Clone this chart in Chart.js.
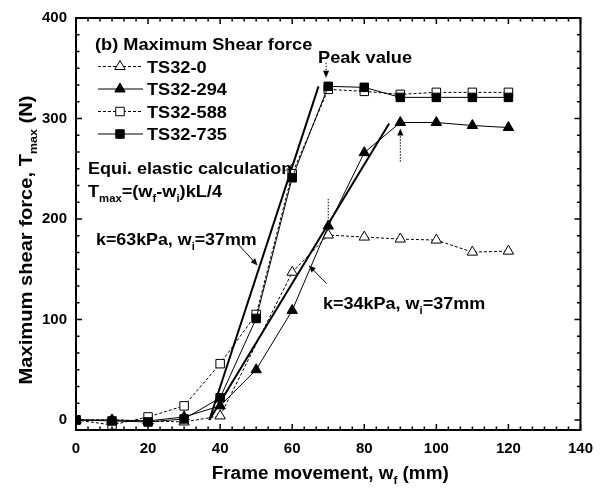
<!DOCTYPE html>
<html>
<head>
<meta charset="utf-8">
<script src="https://cdn.jsdelivr.net/npm/chart.js@4.4.1/dist/chart.umd.min.js"></script>
<style>
  html, body { margin: 0; padding: 0; background: #fff; }
  #wrap { width: 603px; height: 495px; }
</style>
</head>
<body>
<div id="wrap"><canvas id="c" width="603" height="495"></canvas></div>
<script>
// Frame movement w_f (mm) at each measurement step
const frameMovement = [0, 10, 20, 30, 40, 50, 60, 70, 80, 90, 100, 110, 120];
// Maximum shear force T_max (N) per specimen; null = not measured
const ts32_0   = [0, 0, -1, -2, 4, null, 147, 184, 182, 180, 179, 167, 168];
const ts32_294 = [0, 0, -1, 3, 14, 50, 109, 193, 266, 296, 296, 293, 291];
const ts32_588 = [0, -5, 3, 14, 56, 105, 245, 329, 327, 324, 326, 326, 326];
const ts32_735 = [0, -1, -2, 1, 22, 101, 241, 332, 331, 321, 321, 321, 321];
// Equivalent elastic calculation, T = (wf - wi) k L / 4 with wi = 37 mm
const calc63Wf = [37, 67.3];
const calc63T  = [0, 332];
const calc34Wf = [37, 86.9];
const calc34T  = [0, 295];
// Axis tick labels
const xTickValues = [0, 20, 40, 60, 80, 100, 120, 140];
const yTickValues = [0, 100, 200, 300, 400];

const FAMILY = "'Liberation Sans', Arial, Helvetica, sans-serif";

function pts(xs, ys) {
  const out = [];
  xs.forEach((x, i) => { if (ys[i] !== null) out.push({ x: x, y: ys[i] }); });
  return out;
}

const seriesStyle = [
  { label: 'TS32-0',   data: ts32_0,   style: 'triangle', fill: '#fff', dash: [3, 2] },
  { label: 'TS32-294', data: ts32_294, style: 'triangle', fill: '#000', dash: [] },
  { label: 'TS32-588', data: ts32_588, style: 'rect',     fill: '#fff', dash: [3, 2] },
  { label: 'TS32-735', data: ts32_735, style: 'rect',     fill: '#000', dash: [] }
];

const datasets = [];
// filled squares on top, then open squares, triangles, calculation lines
[3, 2, 1, 0].forEach(i => {
  const s = seriesStyle[i];
  datasets.push({
    label: s.label,
    data: pts(frameMovement, s.data),
    borderColor: '#000',
    borderWidth: 1,
    borderDash: s.dash,
    pointStyle: s.style,
    pointRadius: 6,
    pointBorderWidth: 1,
    pointBackgroundColor: s.fill,
    pointBorderColor: '#000',
    tension: 0,
    fill: false
  });
});
[[calc63Wf, calc63T], [calc34Wf, calc34T]].forEach(([xs, ys], i) => {
  datasets.push({
    label: i === 0 ? 'k=63kPa' : 'k=34kPa',
    data: pts(xs, ys),
    borderColor: '#000',
    borderWidth: 2,
    pointRadius: 0,
    tension: 0,
    fill: false
  });
});

// bold text with optional subscript segments, drawn from the left baseline
function richWidth(ctx, segs, size) {
  let w = 0;
  segs.forEach(([t, sub]) => {
    ctx.font = 'bold ' + (sub ? size * 0.62 : size) + 'px ' + FAMILY;
    w += ctx.measureText(t).width;
  });
  return w;
}
function drawRich(ctx, segs, x, y, size, sx) {
  ctx.save();
  ctx.translate(x, y);
  ctx.scale(sx, 1);
  ctx.textBaseline = 'alphabetic';
  ctx.textAlign = 'left';
  ctx.fillStyle = '#000';
  let cx = 0;
  segs.forEach(([t, sub]) => {
    const fs = sub ? size * 0.62 : size;
    ctx.font = 'bold ' + fs + 'px ' + FAMILY;
    ctx.fillText(t, cx, sub ? size * 0.3 : 0);
    cx += ctx.measureText(t).width;
  });
  ctx.restore();
}

function arrow(ctx, x0, y0, x1, y1, dashed, head) {
  ctx.save();
  ctx.strokeStyle = '#000';
  ctx.fillStyle = '#000';
  ctx.lineWidth = 1;
  ctx.setLineDash(dashed ? [1.5, 1.5] : []);
  const ang = Math.atan2(y1 - y0, x1 - x0);
  const hl = head ? 7 : 0;
  ctx.beginPath();
  ctx.moveTo(x0, y0);
  ctx.lineTo(x1 - Math.cos(ang) * hl * 0.8, y1 - Math.sin(ang) * hl * 0.8);
  ctx.stroke();
  if (head) {
    ctx.setLineDash([]);
    ctx.beginPath();
    ctx.moveTo(x1, y1);
    ctx.lineTo(x1 - Math.cos(ang) * hl + Math.sin(ang) * 3, y1 - Math.sin(ang) * hl - Math.cos(ang) * 3);
    ctx.lineTo(x1 - Math.cos(ang) * hl - Math.sin(ang) * 3, y1 - Math.sin(ang) * hl + Math.cos(ang) * 3);
    ctx.closePath();
    ctx.fill();
  }
  ctx.restore();
}

const decor = {
  id: 'decor',
  afterDatasetsDraw(chart) {
    const { ctx, chartArea: a, scales: { x, y } } = chart;
    const X = v => x.getPixelForValue(v);
    const Y = v => y.getPixelForValue(v);
    ctx.save();

    // inward ticks on all four sides
    ctx.strokeStyle = '#000';
    ctx.lineWidth = 1.5;
    ctx.beginPath();
    for (let i = 0; i <= 42; i++) {
      const px = X(i * 20 / 6);
      const len = i % 6 === 0 ? 6 : 3.5;
      ctx.moveTo(px, a.bottom); ctx.lineTo(px, a.bottom - len);
      ctx.moveTo(px, a.top); ctx.lineTo(px, a.top + len);
    }
    for (let i = 0; i <= 24; i++) {
      const py = Y(i * 100 / 6);
      const len = i % 6 === 0 ? 6 : 3.5;
      ctx.moveTo(a.left, py); ctx.lineTo(a.left + len, py);
      ctx.moveTo(a.right, py); ctx.lineTo(a.right - len, py);
    }
    ctx.stroke();
    ctx.lineWidth = 2;
    ctx.strokeRect(a.left, a.top, a.right - a.left, a.bottom - a.top);

    const S = 17, SX = 1.07;
    // panel title
    drawRich(ctx, [['(b) Maximum Shear force']], a.left + 19, a.top + 32, S, SX);

    // legend
    seriesStyle.forEach((s, i) => {
      const ry = a.top + 48.5 + i * 22.5;
      ctx.save();
      ctx.strokeStyle = '#000';
      ctx.lineWidth = 1;
      ctx.setLineDash(s.dash);
      ctx.beginPath();
      ctx.moveTo(a.left + 22, ry);
      ctx.lineTo(a.left + 67, ry);
      ctx.stroke();
      ctx.setLineDash([]);
      ctx.fillStyle = s.fill;
      ctx.strokeStyle = '#000';
      Chart.helpers.drawPoint(ctx, { pointStyle: s.style, radius: 6, borderWidth: 1, rotation: 0 }, a.left + 44, ry);
      ctx.restore();
      drawRich(ctx, [[s.label]], a.left + 71, ry + 6, S, SX);
    });

    // calculation notes
    drawRich(ctx, [['Equi. elastic calculation']], a.left + 12, a.top + 156, S, SX * 0.99);
    drawRich(ctx, [['T'], ['max', 1], ['=(w'], ['f', 1], ['-w'], ['i', 1], [')kL/4']], a.left + 12, a.top + 178.5, S, SX);
    drawRich(ctx, [['k=63kPa, w'], ['i', 1], ['=37mm']], a.left + 20, a.top + 226.5, S, SX * 0.98);
    drawRich(ctx, [['k=34kPa, w'], ['i', 1], ['=37mm']], a.left + 247, a.top + 290.5, S, SX * 0.99);
    drawRich(ctx, [['Peak value']], a.left + 242, a.top + 44.5, S, SX);

    // pointers
    arrow(ctx, X(58.1), Y(247.5), X(60.3), Y(256), false, false);
    arrow(ctx, X(44.96), Y(175), X(50.4), Y(153.7), false, true);
    arrow(ctx, X(69.6), Y(135.6), X(64.6), Y(153.7), false, true);
    arrow(ctx, X(69.4), Y(355.5), X(69.4), Y(340.5), true, true);
    arrow(ctx, X(70), Y(220), X(70), Y(196), true, false);
    arrow(ctx, X(90), Y(257), X(90), Y(290), true, true);

    // axis titles
    const tS = 17.5, tSX = 1.08;
    const xt = [['Frame movement, w'], ['f', 1], [' (mm)']];
    const xw = richWidth(ctx, xt, tS) * tSX;
    drawRich(ctx, xt, (a.left + a.right) / 2 - xw / 2 + 2, 479, tS, tSX);

    const yt = [['Maximum shear force, T'], ['max', 1], [' (N)']];
    const ySX = 1.15;
    const yw = richWidth(ctx, yt, tS) * ySX;
    ctx.save();
    ctx.translate(32, 240);
    ctx.rotate(-Math.PI / 2);
    drawRich(ctx, yt, -yw / 2, 0, tS, ySX);
    ctx.restore();

    ctx.restore();
  }
};

new Chart(document.getElementById('c'), {
  type: 'line',
  data: { datasets: datasets },
  options: {
    responsive: false,
    animation: false,
    devicePixelRatio: 1,
    layout: { padding: { top: 13, right: 16, left: 0, bottom: 0 } },
    plugins: { legend: { display: false }, tooltip: { enabled: false } },
    scales: {
      x: {
        type: 'linear', min: 0, max: 140,
        grid: { display: false, drawTicks: false },
        border: { display: false },
        afterBuildTicks: s => { s.ticks = xTickValues.map(v => ({ value: v })); },
        afterFit: s => { s.height = 65; },
        ticks: { font: { family: FAMILY, size: 15, weight: 'bold' }, color: '#000', padding: 10, maxRotation: 0, autoSkip: false }
      },
      y: {
        type: 'linear', min: -10, max: 400,
        grid: { display: false, drawTicks: false },
        border: { display: false },
        afterBuildTicks: s => { s.ticks = yTickValues.map(v => ({ value: v })); },
        afterFit: s => { s.width = 76; },
        ticks: { font: { family: FAMILY, size: 15, weight: 'bold' }, color: '#000', padding: 9, autoSkip: false }
      }
    }
  },
  plugins: [decor]
});
</script>
</body>
</html>
